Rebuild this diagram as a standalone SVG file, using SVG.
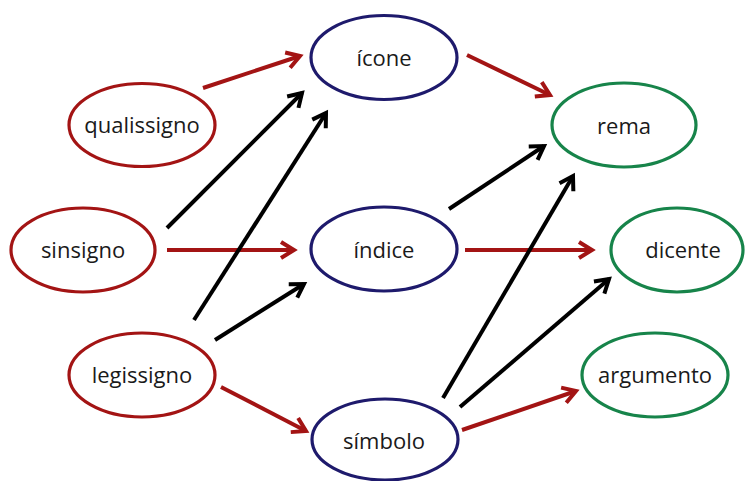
<svg xmlns="http://www.w3.org/2000/svg" width="745" height="481" viewBox="0 0 745 481">
<style>
text{font-family:"Open Sans","Liberation Sans",sans-serif;font-size:22px;fill:#1a1a1a;text-anchor:middle}
ellipse{fill:#fff;stroke-width:3.2}
.r ellipse{stroke:#a31414}
.b ellipse{stroke:#1e1a6c}
.g ellipse{stroke:#17844a}
.cr{stroke:#a31414;stroke-width:4;fill:none}
.ck{stroke:#000;stroke-width:4;fill:none}
</style>
<defs>
<marker id="hr" markerUnits="userSpaceOnUse" orient="auto" refX="0" refY="0" markerWidth="30" markerHeight="30" overflow="visible">
<path d="M-13,-8 L0,0 L-13,8" fill="none" stroke="#a31414" stroke-width="4" stroke-linejoin="miter" stroke-miterlimit="3"/>
</marker>
<marker id="hk" markerUnits="userSpaceOnUse" orient="auto" refX="0" refY="0" markerWidth="30" markerHeight="30" overflow="visible">
<path d="M-13,-8 L0,0 L-13,8" fill="none" stroke="#000" stroke-width="4" stroke-linejoin="miter" stroke-miterlimit="3"/>
</marker>
</defs>
<rect width="745" height="481" fill="#fff"/>
<g id="connectors">
<line class="cr" x1="203" y1="88" x2="300" y2="56" marker-end="url(#hr)"/>
<line class="cr" x1="467" y1="55" x2="550" y2="95" marker-end="url(#hr)"/>
<line class="cr" x1="167" y1="250" x2="294" y2="250" marker-end="url(#hr)"/>
<line class="cr" x1="465" y1="250" x2="592" y2="250" marker-end="url(#hr)"/>
<line class="cr" x1="221" y1="387" x2="306" y2="431" marker-end="url(#hr)"/>
<line class="cr" x1="462" y1="430" x2="576" y2="391" marker-end="url(#hr)"/>
<line class="ck" x1="167" y1="228" x2="302" y2="93" marker-end="url(#hk)"/>
<line class="ck" x1="194" y1="320" x2="326" y2="113" marker-end="url(#hk)"/>
<line class="ck" x1="215" y1="340" x2="304" y2="284" marker-end="url(#hk)"/>
<line class="ck" x1="449" y1="209" x2="544" y2="146" marker-end="url(#hk)"/>
<line class="ck" x1="443" y1="398" x2="573" y2="176" marker-end="url(#hk)"/>
<line class="ck" x1="460" y1="407" x2="609" y2="279" marker-end="url(#hk)"/>
</g>
<g id="qualissigno" class="r"><ellipse cx="142" cy="125" rx="73" ry="41.5"/><text x="142" y="133">qualissigno</text></g>
<g id="sinsigno" class="r"><ellipse cx="83" cy="250" rx="72" ry="42"/><text x="83" y="258">sinsigno</text></g>
<g id="legissigno" class="r"><ellipse cx="142" cy="375" rx="73" ry="42"/><text x="142" y="383">legissigno</text></g>
<g id="icone" class="b"><ellipse cx="384" cy="57.5" rx="73" ry="42"/><text x="384" y="66">ícone</text></g>
<g id="indice" class="b"><ellipse cx="384" cy="249" rx="73" ry="42"/><text x="384" y="258">índice</text></g>
<g id="simbolo" class="b"><ellipse cx="385" cy="439.5" rx="73" ry="40.5"/><text x="384" y="449">símbolo</text></g>
<g id="rema" class="g"><ellipse cx="624" cy="125" rx="72" ry="42"/><text x="624" y="134">rema</text></g>
<g id="dicente" class="g"><ellipse cx="677" cy="250" rx="66" ry="42"/><text x="683" y="258">dicente</text></g>
<g id="argumento" class="g"><ellipse cx="655" cy="375" rx="73" ry="42"/><text x="655" y="383">argumento</text></g>
</svg>
